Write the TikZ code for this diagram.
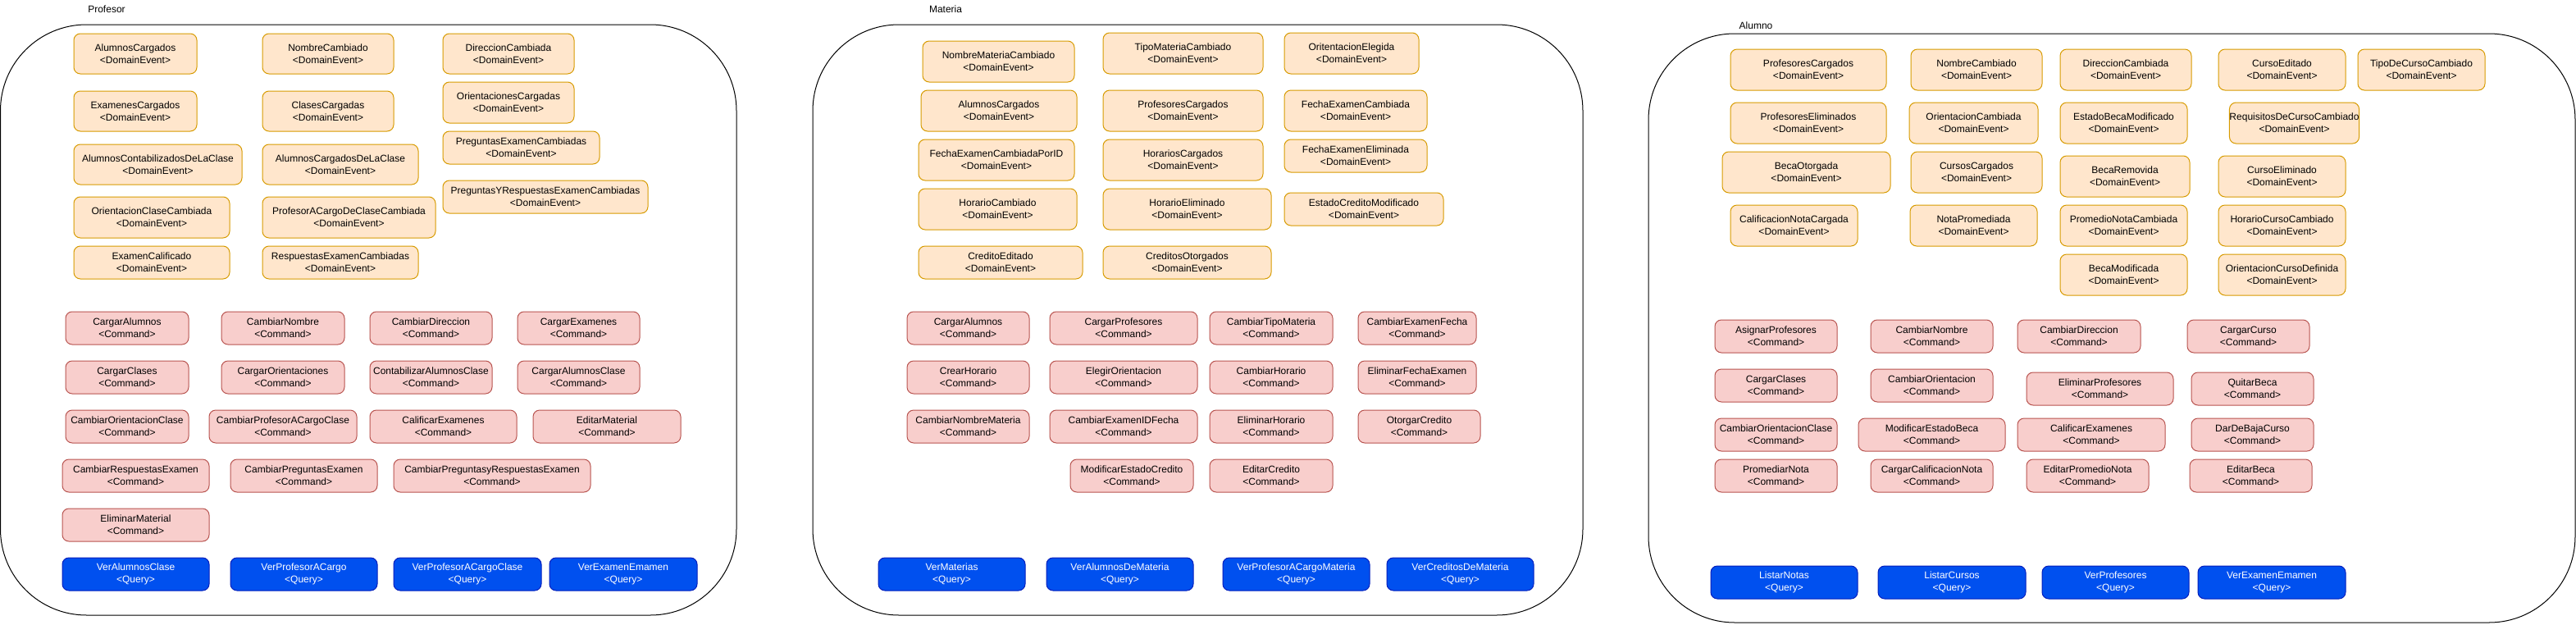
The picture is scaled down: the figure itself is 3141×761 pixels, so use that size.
\documentclass[tikz,border=0pt]{standalone}
\usepackage{fontspec}
\setmainfont{Liberation Sans}
\usepackage{xcolor}
\usepackage{tikz}
\usetikzlibrary{positioning}

\definecolor{evfill}{HTML}{FFE6CC}
\definecolor{evline}{HTML}{D79B00}
\definecolor{cmdfill}{HTML}{F8CECC}
\definecolor{cmdline}{HTML}{B85450}
\definecolor{qryfill}{HTML}{0050EF}
\definecolor{qryline}{HTML}{001DBC}

\begin{document}
\begin{tikzpicture}[
x=1pt, y=-1pt,
cell/.style n args={4}{at={({(#1+#3)/2},{(#2+#4)/2})}, minimum width={(#3)-(#1)}, minimum height={(#4)-(#2)}},
box/.style={draw, rounded corners=8pt, line width=1pt, inner sep=0pt, align=center, font=\fontsize{12}{15}\selectfont},
event/.style={box, fill=evfill, draw=evline},
command/.style={box, fill=cmdfill, draw=cmdline},
query/.style={box, fill=qryfill, draw=qryline, text=white},
panel/.style={draw, rounded corners=105pt, line width=1pt, inner sep=0pt},
title/.style={font=\fontsize{12}{15}\selectfont, inner sep=0pt}
]
\useasboundingbox (0,0) rectangle (3141,761);

% contenedores
\node[panel, cell={0.5}{30}{898}{750}] (profesor) {};
\node[panel, cell={991}{30}{1930}{750}] (materia) {};
\node[panel, cell={2010}{41}{3140}{759}] (alumno) {};
\node[title] (tProfesor) at (130,11) {Profesor};
\node[title] (tMateria) at (1153,11) {Materia};
\node[title] (tAlumno) at (2141,31) {Alumno};

% Profesor - eventos
\node[event, cell={90}{41}{240}{90}] (pAlumnosCargados) {AlumnosCargados\\<DomainEvent>};
\node[event, cell={90}{111}{240}{160}] (pExamenesCargados) {ExamenesCargados\\<DomainEvent>};
\node[event, cell={90}{176}{295}{225}] (pAlumnosContabilizados) {AlumnosContabilizadosDeLaClase\\<DomainEvent>};
\node[event, cell={90}{240}{280}{290}] (pOrientacionClase) {OrientacionClaseCambiada\\<DomainEvent>};
\node[event, cell={90}{300}{280}{340}] (pExamenCalificado) {ExamenCalificado\\<DomainEvent>};
\node[event, cell={320}{41}{480}{90}] (pNombreCambiado) {NombreCambiado\\<DomainEvent>};
\node[event, cell={320}{111}{480}{160}] (pClasesCargadas) {ClasesCargadas\\<DomainEvent>};
\node[event, cell={320}{176}{510}{225}] (pAlumnosClase) {AlumnosCargadosDeLaClase\\<DomainEvent>};
\node[event, cell={320}{240}{531}{290}] (pProfesorACargo) {ProfesorACargoDeClaseCambiada\\<DomainEvent>};
\node[event, cell={320}{300}{510}{340}] (pRespuestas) {RespuestasExamenCambiadas\\<DomainEvent>};
\node[event, cell={540}{41}{700}{90}] (pDireccion) {DireccionCambiada\\<DomainEvent>};
\node[event, cell={540}{100}{700}{150}] (pOrientaciones) {OrientacionesCargadas\\<DomainEvent>};
\node[event, cell={540}{160}{731}{200}] (pPreguntas) {PreguntasExamenCambiadas\\<DomainEvent>};
\node[event, cell={540}{220}{790}{260}] (pPreguntasRespuestas) {PreguntasYRespuestasExamenCambiadas\\<DomainEvent>};

% Profesor - comandos
\node[command, cell={80}{380}{230}{420}] (pCargarAlumnos) {CargarAlumnos\\<Command>};
\node[command, cell={270}{380}{420}{420}] (pCambiarNombre) {CambiarNombre\\<Command>};
\node[command, cell={451}{380}{600}{420}] (pCambiarDireccion) {CambiarDireccion\\<Command>};
\node[command, cell={631}{380}{780}{420}] (pCargarExamenes) {CargarExamenes\\<Command>};
\node[command, cell={80}{440}{230}{480}] (pCargarClases) {CargarClases\\<Command>};
\node[command, cell={270}{440}{420}{480}] (pCargarOrientaciones) {CargarOrientaciones\\<Command>};
\node[command, cell={451}{440}{600}{480}] (pContabilizar) {ContabilizarAlumnosClase\\<Command>};
\node[command, cell={631}{440}{780}{480}] (pCargarAlumnosClase) {CargarAlumnosClase\\<Command>};
\node[command, cell={80}{500}{230}{540}] (pCambiarOrientacion) {CambiarOrientacionClase\\<Command>};
\node[command, cell={255}{500}{435}{540}] (pCambiarProfesor) {CambiarProfesorACargoClase\\<Command>};
\node[command, cell={451}{500}{630}{540}] (pCalificar) {CalificarExamenes\\<Command>};
\node[command, cell={650}{500}{830}{540}] (pEditarMaterial) {EditarMaterial\\<Command>};
\node[command, cell={76}{560}{255}{600}] (pCambiarRespuestas) {CambiarRespuestasExamen\\<Command>};
\node[command, cell={281}{560}{460}{600}] (pCambiarPreguntas) {CambiarPreguntasExamen\\<Command>};
\node[command, cell={480}{560}{720}{600}] (pCambiarAmbas) {CambiarPreguntasyRespuestasExamen\\<Command>};
\node[command, cell={76}{620}{255}{660}] (pEliminarMaterial) {EliminarMaterial\\<Command>};

% Profesor - consultas
\node[query, cell={76}{680}{255}{720}] (pVerAlumnos) {VerAlumnosClase\\<Query>};
\node[query, cell={281}{680}{460}{720}] (pVerProfesor) {VerProfesorACargo\\<Query>};
\node[query, cell={480}{680}{660}{720}] (pVerProfesorClase) {VerProfesorACargoClase\\<Query>};
\node[query, cell={670}{680}{850}{720}] (pVerExamen) {VerExamenEmamen\\<Query>};

% Materia - eventos
\node[event, cell={1125}{50}{1310}{100}] (mNombre) {NombreMateriaCambiado\\<DomainEvent>};
\node[event, cell={1123}{110}{1313}{160}] (mAlumnos) {AlumnosCargados\\<DomainEvent>};
\node[event, cell={1120}{170}{1310}{220}] (mFechaPorID) {FechaExamenCambiadaPorID\\<DomainEvent>};
\node[event, cell={1120}{230}{1313}{280}] (mHorarioCambiado) {HorarioCambiado\\<DomainEvent>};
\node[event, cell={1120}{300}{1320}{340}] (mCreditoEditado) {CreditoEditado\\<DomainEvent>};
\node[event, cell={1345}{40}{1540}{90}] (mTipo) {TipoMateriaCambiado\\<DomainEvent>};
\node[event, cell={1345}{110}{1540}{160}] (mProfesores) {ProfesoresCargados\\<DomainEvent>};
\node[event, cell={1345}{170}{1540}{220}] (mHorarios) {HorariosCargados\\<DomainEvent>};
\node[event, cell={1345}{230}{1550}{280}] (mHorarioEliminado) {HorarioEliminado\\<DomainEvent>};
\node[event, cell={1345}{300}{1550}{340}] (mCreditos) {CreditosOtorgados\\<DomainEvent>};
\node[event, cell={1566}{40}{1730}{90}] (mOrientacion) {OritentacionElegida\\<DomainEvent>};
\node[event, cell={1566}{110}{1740}{160}] (mFechaCambiada) {FechaExamenCambiada\\<DomainEvent>};
\node[event, cell={1566}{170}{1740}{210}] (mFechaEliminada) {FechaExamenEliminada\\<DomainEvent>};
\node[event, cell={1566}{235}{1760}{275}] (mEstadoCredito) {EstadoCreditoModificado\\<DomainEvent>};

% Materia - comandos
\node[command, cell={1106}{380}{1255}{420}] (mCargarAlumnos) {CargarAlumnos\\<Command>};
\node[command, cell={1280}{380}{1460}{420}] (mCargarProfesores) {CargarProfesores\\<Command>};
\node[command, cell={1475}{380}{1625}{420}] (mCambiarTipo) {CambiarTipoMateria\\<Command>};
\node[command, cell={1656}{380}{1800}{420}] (mCambiarFecha) {CambiarExamenFecha\\<Command>};
\node[command, cell={1106}{440}{1255}{480}] (mCrearHorario) {CrearHorario\\<Command>};
\node[command, cell={1280}{440}{1460}{480}] (mElegir) {ElegirOrientacion\\<Command>};
\node[command, cell={1475}{440}{1625}{480}] (mCambiarHorario) {CambiarHorario\\<Command>};
\node[command, cell={1656}{440}{1800}{480}] (mEliminarFecha) {EliminarFechaExamen\\<Command>};
\node[command, cell={1106}{500}{1255}{540}] (mCambiarNombre) {CambiarNombreMateria\\<Command>};
\node[command, cell={1280}{500}{1460}{540}] (mCambiarIDFecha) {CambiarExamenIDFecha\\<Command>};
\node[command, cell={1475}{500}{1625}{540}] (mEliminarHorario) {EliminarHorario\\<Command>};
\node[command, cell={1656}{500}{1805}{540}] (mOtorgar) {OtorgarCredito\\<Command>};
\node[command, cell={1305}{560}{1455}{600}] (mModificarEstado) {ModificarEstadoCredito\\<Command>};
\node[command, cell={1475}{560}{1625}{600}] (mEditarCredito) {EditarCredito\\<Command>};

% Materia - consultas
\node[query, cell={1071}{680}{1250}{720}] (mVerMaterias) {VerMaterias\\<Query>};
\node[query, cell={1276}{680}{1455}{720}] (mVerAlumnos) {VerAlumnosDeMateria\\<Query>};
\node[query, cell={1491}{680}{1670}{720}] (mVerProfesor) {VerProfesorACargoMateria\\<Query>};
\node[query, cell={1691}{680}{1870}{720}] (mVerCreditos) {VerCreditosDeMateria\\<Query>};

% Alumno - eventos
\node[event, cell={2110}{60}{2300}{110}] (aProfesoresCargados) {ProfesoresCargados\\<DomainEvent>};
\node[event, cell={2110}{125}{2300}{175}] (aProfesoresEliminados) {ProfesoresEliminados\\<DomainEvent>};
\node[event, cell={2100}{185}{2305}{235}] (aBecaOtorgada) {BecaOtorgada\\<DomainEvent>};
\node[event, cell={2110}{250}{2265}{300}] (aCalificacion) {CalificacionNotaCargada\\<DomainEvent>};
\node[event, cell={2330}{60}{2490}{110}] (aNombre) {NombreCambiado\\<DomainEvent>};
\node[event, cell={2328}{125}{2485}{175}] (aOrientacion) {OrientacionCambiada\\<DomainEvent>};
\node[event, cell={2330}{185}{2490}{235}] (aCursos) {CursosCargados\\<DomainEvent>};
\node[event, cell={2329}{250}{2484}{300}] (aNota) {NotaPromediada\\<DomainEvent>};
\node[event, cell={2512}{60}{2672}{110}] (aDireccion) {DireccionCambiada\\<DomainEvent>};
\node[event, cell={2512}{125}{2667}{175}] (aEstadoBeca) {EstadoBecaModificado\\<DomainEvent>};
\node[event, cell={2512}{190}{2670}{240}] (aBecaRemovida) {BecaRemovida\\<DomainEvent>};
\node[event, cell={2512}{250}{2667}{300}] (aPromedio) {PromedioNotaCambiada\\<DomainEvent>};
\node[event, cell={2512}{310}{2667}{360}] (aBecaModificada) {BecaModificada\\<DomainEvent>};
\node[event, cell={2705}{60}{2860}{110}] (aCursoEditado) {CursoEditado\\<DomainEvent>};
\node[event, cell={2720}{125}{2875}{175}] (aRequisitos) {RequisitosDeCursoCambiado\\<DomainEvent>};
\node[event, cell={2705}{190}{2860}{240}] (aCursoEliminado) {CursoEliminado\\<DomainEvent>};
\node[event, cell={2705}{250}{2860}{300}] (aHorarioCurso) {HorarioCursoCambiado\\<DomainEvent>};
\node[event, cell={2705}{310}{2860}{360}] (aOrientacionCurso) {OrientacionCursoDefinida\\<DomainEvent>};
\node[event, cell={2875}{60}{3030}{110}] (aTipoCurso) {TipoDeCursoCambiado\\<DomainEvent>};

% Alumno - comandos
\node[command, cell={2091}{390}{2240}{430}] (aAsignar) {AsignarProfesores\\<Command>};
\node[command, cell={2281}{390}{2430}{430}] (aCambiarNombre) {CambiarNombre\\<Command>};
\node[command, cell={2460}{390}{2610}{430}] (aCambiarDireccion) {CambiarDireccion\\<Command>};
\node[command, cell={2667}{390}{2816}{430}] (aCargarCurso) {CargarCurso\\<Command>};
\node[command, cell={2091}{450}{2240}{490}] (aCargarClases) {CargarClases\\<Command>};
\node[command, cell={2281}{450}{2430}{490}] (aCambiarOrientacion) {CambiarOrientacion\\<Command>};
\node[command, cell={2471}{454}{2650}{494}] (aEliminarProfesores) {EliminarProfesores\\<Command>};
\node[command, cell={2672}{454}{2821}{494}] (aQuitarBeca) {QuitarBeca\\<Command>};
\node[command, cell={2091}{510}{2240}{550}] (aCambiarOrientacionClase) {CambiarOrientacionClase\\<Command>};
\node[command, cell={2266}{510}{2445}{550}] (aModificarBeca) {ModificarEstadoBeca\\<Command>};
\node[command, cell={2460}{510}{2640}{550}] (aCalificar) {CalificarExamenes\\<Command>};
\node[command, cell={2672}{510}{2821}{550}] (aDarDeBaja) {DarDeBajaCurso\\<Command>};
\node[command, cell={2091}{560}{2240}{600}] (aPromediar) {PromediarNota\\<Command>};
\node[command, cell={2281}{560}{2430}{600}] (aCargarCalificacion) {CargarCalificacionNota\\<Command>};
\node[command, cell={2471}{560}{2620}{600}] (aEditarPromedio) {EditarPromedioNota\\<Command>};
\node[command, cell={2670}{560}{2819}{600}] (aEditarBeca) {EditarBeca\\<Command>};

% Alumno - consultas
\node[query, cell={2086}{690}{2265}{730}] (aListarNotas) {ListarNotas\\<Query>};
\node[query, cell={2290}{690}{2470}{730}] (aListarCursos) {ListarCursos\\<Query>};
\node[query, cell={2490}{690}{2669}{730}] (aVerProfesores) {VerProfesores\\<Query>};
\node[query, cell={2680}{690}{2860}{730}] (aVerExamen) {VerExamenEmamen\\<Query>};
\end{tikzpicture}
\end{document}
